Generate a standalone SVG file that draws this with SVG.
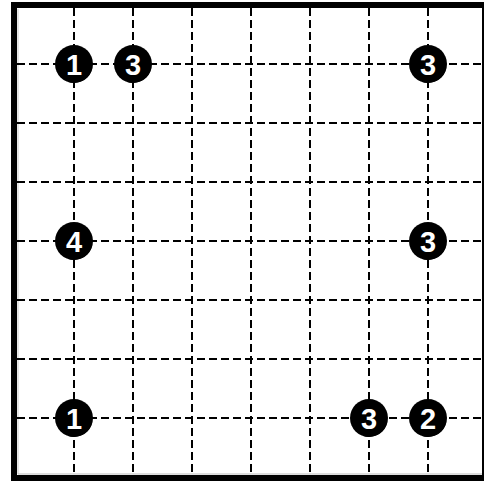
<svg xmlns="http://www.w3.org/2000/svg" width="486" height="481" viewBox="0 0 486 481">
<style>
.grid line{stroke:#000;stroke-width:2;stroke-dasharray:8 4;}
.stone circle.body{fill:#1c1c1c;stroke:#000;stroke-width:1.2;}
.stone path.hl{fill:none;stroke:#d8d8d8;stroke-width:1.2;stroke-dasharray:1.2 2.2;}
.stone text{font-family:"Liberation Sans",Arial,sans-serif;font-weight:bold;font-size:29px;fill:#fff;text-anchor:middle;stroke:#000;stroke-width:0.6;paint-order:stroke;}
</style>
<defs>
<g id="stoneShape">
<circle class="body" cx="0" cy="0" r="19"/>
<path class="hl" d="M 18 5 A 19 19 0 0 1 -6 18"/>
</g>
</defs>
<rect x="0" y="0" width="486" height="481" fill="#fff"/>
<g id="board">
<rect x="11" y="2" width="473" height="479" fill="#000"/>
<rect x="17" y="8" width="465" height="467" fill="#fff"/>
<line x1="18" y1="9" x2="18" y2="474" stroke="#ccc" stroke-width="1"/>
<line x1="18" y1="474" x2="482" y2="474" stroke="#bbb" stroke-width="1"/>
</g>
<g id="connectors" class="grid">
<line x1="17" y1="64" x2="482" y2="64"/>
<line x1="17" y1="123" x2="482" y2="123"/>
<line x1="17" y1="182" x2="482" y2="182"/>
<line x1="17" y1="241" x2="482" y2="241"/>
<line x1="17" y1="300" x2="482" y2="300"/>
<line x1="17" y1="359" x2="482" y2="359"/>
<line x1="17" y1="418" x2="482" y2="418"/>
<line x1="74" y1="8" x2="74" y2="475"/>
<line x1="133" y1="8" x2="133" y2="475"/>
<line x1="192" y1="8" x2="192" y2="475"/>
<line x1="251" y1="8" x2="251" y2="475"/>
<line x1="310" y1="8" x2="310" y2="475"/>
<line x1="369" y1="8" x2="369" y2="475"/>
<line x1="428" y1="8" x2="428" y2="475"/>
</g>
<g id="stone-a" class="stone" transform="translate(74,64)"><use href="#stoneShape"/><text x="0" y="10.5">1</text></g>
<g id="stone-b" class="stone" transform="translate(133,64)"><use href="#stoneShape"/><text x="0" y="10.5">3</text></g>
<g id="stone-c" class="stone" transform="translate(428,64)"><use href="#stoneShape"/><text x="0" y="10.5">3</text></g>
<g id="stone-d" class="stone" transform="translate(74,241)"><use href="#stoneShape"/><text x="0" y="10.5">4</text></g>
<g id="stone-e" class="stone" transform="translate(428,241)"><use href="#stoneShape"/><text x="0" y="10.5">3</text></g>
<g id="stone-f" class="stone" transform="translate(74,418)"><use href="#stoneShape"/><text x="0" y="10.5">1</text></g>
<g id="stone-g" class="stone" transform="translate(369,418)"><use href="#stoneShape"/><text x="0" y="10.5">3</text></g>
<g id="stone-h" class="stone" transform="translate(428,418)"><use href="#stoneShape"/><text x="0" y="10.5">2</text></g>
</svg>
